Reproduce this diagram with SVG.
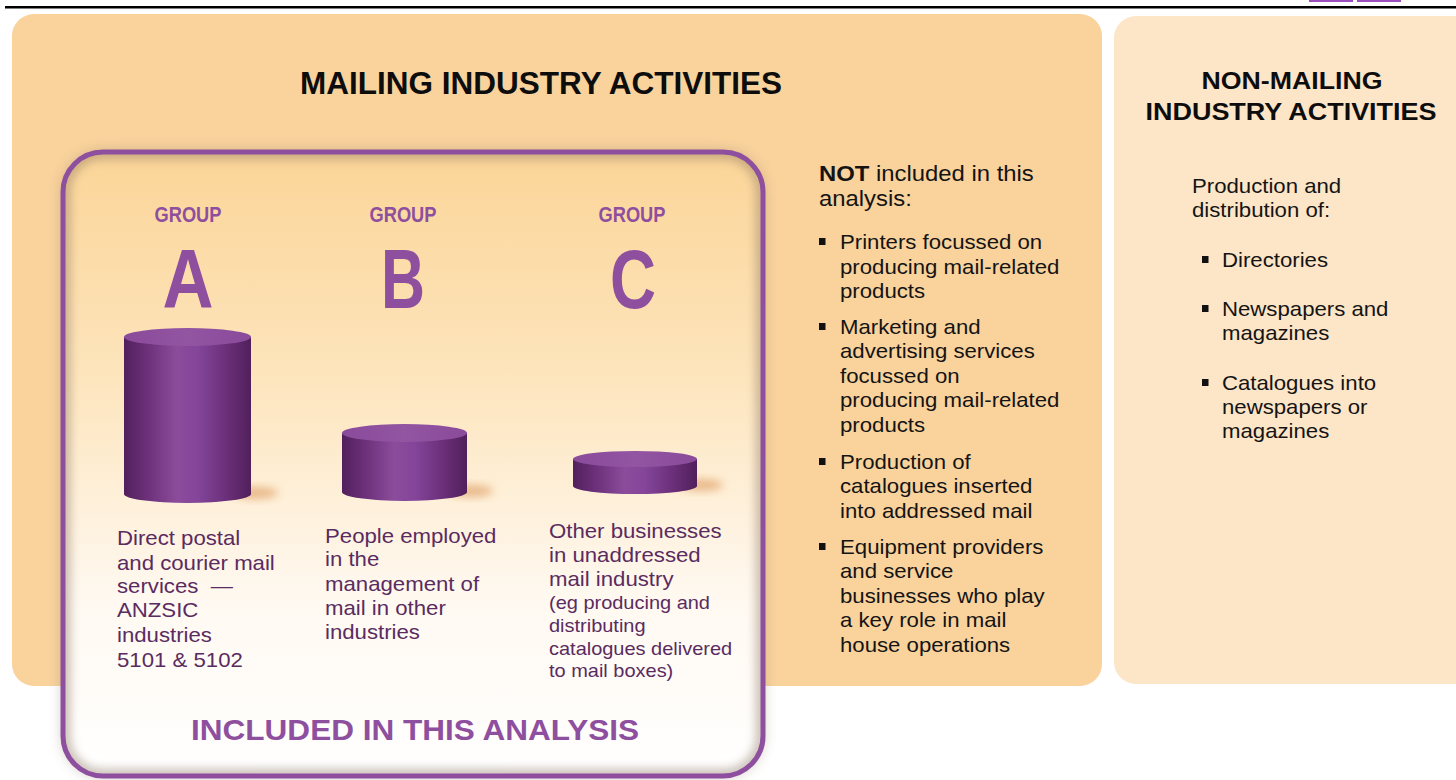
<svg xmlns="http://www.w3.org/2000/svg" width="1456" height="780" viewBox="0 0 1456 780">
  <defs>
    <style>
      .ttl { font-family: "Liberation Sans", Arial, sans-serif; font-weight: bold; fill: #0d0d0d; }
      .body { font-family: "Liberation Sans", Arial, sans-serif; font-size: 20px; fill: #141414; }
      .lead { font-size: 21.5px; }
      .desc { font-family: "Liberation Sans", Arial, sans-serif; font-size: 20px; fill: #5a2b60; }
      .desc-sm { font-size: 18px; }
      .grp { font-family: "Liberation Sans", Arial, sans-serif; font-weight: bold; fill: #8e4f9f; text-anchor: middle; }
      .bullet { fill: #111; }
      .cyl-side { fill: url(#cylSide); }
      .cyl-top { fill: url(#cylTop); }
      .cyl-shadow { fill: #d4833a; opacity: 0.5; filter: url(#soft); }
    </style>
    <linearGradient id="cylSide" x1="0" y1="0" x2="1" y2="0">
      <stop offset="0" stop-color="#52205c"/>
      <stop offset="0.18" stop-color="#6b3079"/>
      <stop offset="0.42" stop-color="#8c4c9c"/>
      <stop offset="0.58" stop-color="#84459a"/>
      <stop offset="0.82" stop-color="#692e77"/>
      <stop offset="1" stop-color="#51205b"/>
    </linearGradient>
    <linearGradient id="cylTop" x1="0" y1="0" x2="1" y2="0">
      <stop offset="0" stop-color="#8a4b9a"/>
      <stop offset="0.5" stop-color="#9255a2"/>
      <stop offset="1" stop-color="#8a4b9a"/>
    </linearGradient>
    <linearGradient id="boxFill" x1="0" y1="0" x2="0" y2="1">
      <stop offset="0" stop-color="#fbd598"/>
      <stop offset="0.35" stop-color="#fde4bb"/>
      <stop offset="0.72" stop-color="#fff9f1"/>
      <stop offset="1" stop-color="#ffffff"/>
    </linearGradient>
    <filter id="soft" x="-50%" y="-50%" width="200%" height="200%">
      <feGaussianBlur stdDeviation="4"/>
    </filter>
    <filter id="boxShadow" x="-10%" y="-10%" width="120%" height="120%">
      <feGaussianBlur stdDeviation="7"/>
    </filter>
    <clipPath id="boxClip">
      <rect x="63" y="152" width="700" height="624" rx="40"/>
    </clipPath>
  </defs>

  <!-- page rule and tabs -->
  <g id="page-header">
    <rect x="5" y="6" width="1451" height="2.5" fill="#000"/>
    <rect x="1309" y="0" width="44" height="2" fill="#9b4fbf"/>
    <rect x="1357" y="0" width="44" height="2" fill="#9b4fbf"/>
  </g>

  <!-- mailing industry panel -->
  <g id="mailing-panel">
    <rect x="12" y="14" width="1090" height="672" rx="22" fill="#f9d29c"/>
    <text class="ttl" x="541" y="94" font-size="32" text-anchor="middle" textLength="482" lengthAdjust="spacingAndGlyphs">MAILING INDUSTRY ACTIVITIES</text>
  </g>

  <!-- non-mailing panel -->
  <g id="non-mailing-panel">
    <rect x="1114" y="16" width="372" height="668" rx="22" fill="#fde5c7"/>
    <text class="ttl" x="1292" y="89" font-size="24" text-anchor="middle" textLength="181" lengthAdjust="spacingAndGlyphs">NON-MAILING</text>
    <text class="ttl" x="1291" y="120" font-size="24" text-anchor="middle" textLength="291" lengthAdjust="spacingAndGlyphs">INDUSTRY ACTIVITIES</text>
    <text class="body" transform="matrix(1.11 0 0 1 1192 0)">
      <tspan x="0" y="193">Production and</tspan>
      <tspan x="0" y="217">distribution of:</tspan>
    </text>
    <rect class="bullet" x="1202" y="256" width="6.5" height="7"/>
    <rect class="bullet" x="1202" y="305" width="6.5" height="7"/>
    <rect class="bullet" x="1202" y="379" width="6.5" height="7"/>
    <text class="body" transform="matrix(1.11 0 0 1 1222 0)">
      <tspan x="0" y="267">Directories</tspan>
      <tspan x="0" y="316">Newspapers and</tspan>
      <tspan x="0" y="340">magazines</tspan>
      <tspan x="0" y="390">Catalogues into</tspan>
      <tspan x="0" y="414">newspapers or</tspan>
      <tspan x="0" y="438">magazines</tspan>
    </text>
  </g>

  <!-- excluded activities list -->
  <g id="not-included">
    <text class="body lead" transform="matrix(1.11 0 0 1 819 0)">
      <tspan x="0" y="181"><tspan font-weight="bold">NOT</tspan> included in this</tspan>
      <tspan x="0" y="206">analysis:</tspan>
    </text>
    <rect class="bullet" x="819" y="238" width="6.5" height="7"/>
    <rect class="bullet" x="819" y="323" width="6.5" height="7"/>
    <rect class="bullet" x="819" y="458" width="6.5" height="7"/>
    <rect class="bullet" x="819" y="543" width="6.5" height="7"/>
    <text class="body" transform="matrix(1.11 0 0 1 840 0)">
      <tspan x="0" y="249">Printers focussed on</tspan>
      <tspan x="0" y="274">producing mail-related</tspan>
      <tspan x="0" y="298">products</tspan>
      <tspan x="0" y="334">Marketing and</tspan>
      <tspan x="0" y="358">advertising services</tspan>
      <tspan x="0" y="383">focussed on</tspan>
      <tspan x="0" y="407">producing mail-related</tspan>
      <tspan x="0" y="432">products</tspan>
      <tspan x="0" y="469">Production of</tspan>
      <tspan x="0" y="493">catalogues inserted</tspan>
      <tspan x="0" y="518">into addressed mail</tspan>
      <tspan x="0" y="554">Equipment providers</tspan>
      <tspan x="0" y="578">and service</tspan>
      <tspan x="0" y="603">businesses who play</tspan>
      <tspan x="0" y="627">a key role in mail</tspan>
      <tspan x="0" y="652">house operations</tspan>
    </text>
  </g>

  <!-- included analysis frame -->
  <g id="included-box">
    <rect x="63" y="152" width="700" height="624" rx="40" fill="#8a7a66" opacity="0.45" filter="url(#boxShadow)"/>
    <rect x="63" y="152" width="700" height="624" rx="40" fill="url(#boxFill)"/>
    <g clip-path="url(#boxClip)">
      <rect x="63" y="152" width="700" height="624" rx="40" fill="none" stroke="#8a7560" stroke-width="16" opacity="0.4" filter="url(#soft)"/>
    </g>
    <rect x="63" y="152" width="700" height="624" rx="40" fill="none" stroke="#8e4f9f" stroke-width="5"/>
    <text class="grp" x="415" y="740" font-size="30" textLength="448" lengthAdjust="spacingAndGlyphs">INCLUDED IN THIS ANALYSIS</text>
  </g>

  <!-- group A -->
  <g id="group-a">
    <text class="grp" x="188" y="222" font-size="22" textLength="67" lengthAdjust="spacingAndGlyphs">GROUP</text>
    <text class="grp" x="188" y="308" font-size="84" textLength="51" lengthAdjust="spacingAndGlyphs">A</text>
    <ellipse class="cyl-shadow" cx="256" cy="493" rx="22" ry="6"/>
    <path class="cyl-side" d="M124 337 L124 494 A63.5 9 0 0 0 251 494 L251 337 Z"/>
    <ellipse class="cyl-top" cx="187.5" cy="337" rx="63.5" ry="9"/>
    <text class="desc" transform="matrix(1.11 0 0 1 117 0)">
      <tspan x="0" y="545">Direct postal</tspan>
      <tspan x="0" y="570">and courier mail</tspan>
      <tspan x="0" y="593">services&#160; —</tspan>
      <tspan x="0" y="617">ANZSIC</tspan>
      <tspan x="0" y="642">industries</tspan>
      <tspan x="0" y="667">5101 &amp; 5102</tspan>
    </text>
  </g>

  <!-- group B -->
  <g id="group-b">
    <text class="grp" x="403" y="222" font-size="22" textLength="67" lengthAdjust="spacingAndGlyphs">GROUP</text>
    <text class="grp" x="403" y="308" font-size="84" textLength="44" lengthAdjust="spacingAndGlyphs">B</text>
    <ellipse class="cyl-shadow" cx="471" cy="491" rx="22" ry="6"/>
    <path class="cyl-side" d="M342 433 L342 492 A62.5 9 0 0 0 467 492 L467 433 Z"/>
    <ellipse class="cyl-top" cx="404.5" cy="433" rx="62.5" ry="9"/>
    <text class="desc" transform="matrix(1.11 0 0 1 325 0)">
      <tspan x="0" y="543">People employed</tspan>
      <tspan x="0" y="566">in the</tspan>
      <tspan x="0" y="591">management of</tspan>
      <tspan x="0" y="615">mail in other</tspan>
      <tspan x="0" y="639">industries</tspan>
    </text>
  </g>

  <!-- group C -->
  <g id="group-c">
    <text class="grp" x="632" y="222" font-size="22" textLength="67" lengthAdjust="spacingAndGlyphs">GROUP</text>
    <text class="grp" x="633" y="308" font-size="84" textLength="46" lengthAdjust="spacingAndGlyphs">C</text>
    <ellipse class="cyl-shadow" cx="701" cy="485" rx="22" ry="6"/>
    <path class="cyl-side" d="M573 459 L573 486 A62 8 0 0 0 697 486 L697 459 Z"/>
    <ellipse class="cyl-top" cx="635" cy="459" rx="62" ry="8"/>
    <text class="desc" transform="matrix(1.11 0 0 1 549 0)">
      <tspan x="0" y="538">Other businesses</tspan>
      <tspan x="0" y="562">in unaddressed</tspan>
      <tspan x="0" y="586">mail industry</tspan>
      <tspan class="desc-sm" x="0" y="609">(eg producing and</tspan>
      <tspan class="desc-sm" x="0" y="632">distributing</tspan>
      <tspan class="desc-sm" x="0" y="655">catalogues delivered</tspan>
      <tspan class="desc-sm" x="0" y="677">to mail boxes)</tspan>
    </text>
  </g>
</svg>
